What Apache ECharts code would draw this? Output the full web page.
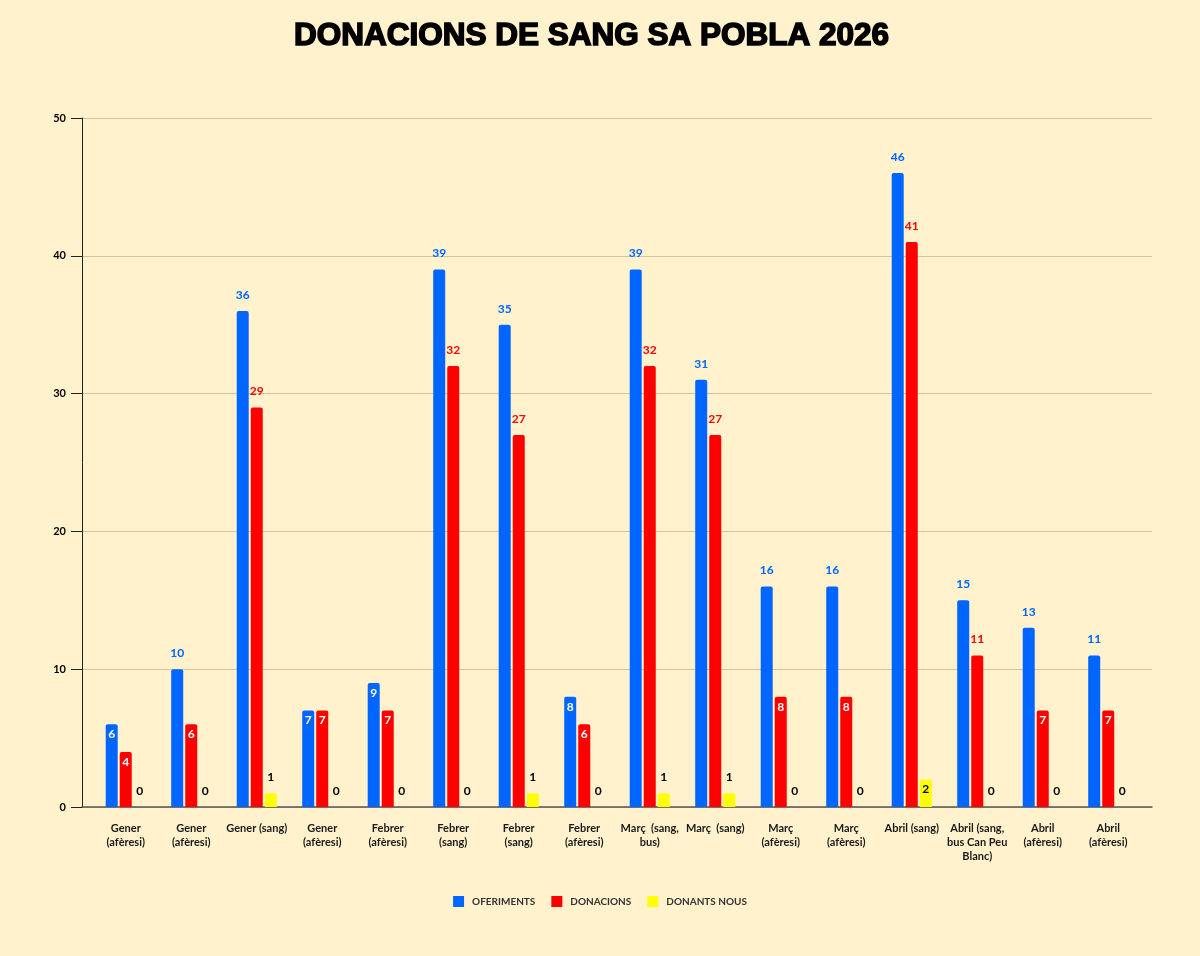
<!DOCTYPE html>
<html>
<head>
<meta charset="utf-8">
<script src="https://cdn.jsdelivr.net/npm/echarts@6/dist/echarts.min.js"></script>
<style>
html, body { margin: 0; padding: 0; background: #FFF2CC; }
#main { width: 1200px; height: 956px; }
</style>
</head>
<body>
<div id="main"></div>
<script>
// dades
var categories = [
    'Gener\n(afèresi)', 'Gener\n(afèresi)', 'Gener (sang)', 'Gener\n(afèresi)',
    'Febrer\n(afèresi)', 'Febrer\n(sang)', 'Febrer\n(sang)', 'Febrer\n(afèresi)',
    'Març  (sang,\nbus)', 'Març  (sang)', 'Març\n(afèresi)', 'Març\n(afèresi)',
    'Abril (sang)', 'Abril (sang,\nbus Can Peu\nBlanc)', 'Abril\n(afèresi)', 'Abril\n(afèresi)'
];
var oferiments = [6, 10, 36, 7, 9, 39, 35, 8, 39, 31, 16, 16, 46, 15, 13, 11];
var donacions = [4, 6, 29, 7, 7, 32, 27, 6, 32, 27, 8, 8, 41, 11, 7, 7];
var donantsNous = [0, 0, 1, 0, 0, 0, 1, 0, 1, 1, 0, 0, 2, 0, 0, 0];
var yTicks = [0, 10, 20, 30, 40, 50];

var BLUE = '#0066FF', RED = '#FF0000', YELLOW = '#FFFF00';
var font = 'Lato, "Open Sans", sans-serif';

// etiqueta a dalt (color de la barra) o dins (blanc) segons l'altura
function withLabels(values, color, limit, insideColor) {
    return values.map(function (v) {
        var inside = v >= limit ? false : true;
        if (color === YELLOW) inside = v >= 2;
        return {
            value: v,
            label: inside
                ? { position: 'insideTop', distance: 4, color: insideColor }
                : { position: 'top', distance: 10, color: color === YELLOW ? '#000' : color }
        };
    });
}

function barSeries(name, values, color) {
    return {
        name: name,
        type: 'bar',
        xAxisIndex: 1,
        yAxisIndex: 1,
        barWidth: 12,
        barGap: '17%',
        itemStyle: { color: color, borderRadius: [2, 2, 0, 0] },
        label: {
            show: true,
            fontFamily: font,
            fontWeight: 'bold',
            fontSize: 12
        },
        data: withLabels(values, color, 10, color === YELLOW ? '#000' : '#fff')
    };
}

var option = {
    backgroundColor: '#FFF2CC',
    animation: false,
    title: {
        text: 'DONACIONS DE SANG SA POBLA 2026',
        left: 289,
        top: 15,
        textStyle: {
            fontFamily: '"Liberation Sans", Arial, sans-serif',
            fontWeight: 900,
            fontSize: 31.5,
            color: '#000',
            textBorderColor: '#000',
            textBorderWidth: 1.6
        }
    },
    legend: {
        bottom: 44,
        left: 'center',
        icon: 'rect',
        itemWidth: 11,
        itemHeight: 11,
        itemGap: 16,
        textStyle: {
            fontFamily: font, fontWeight: 'bold', fontSize: 10, color: '#333',
            padding: [0, 0, 0, 3]
        },
        data: ['OFERIMENTS', 'DONACIONS', 'DONANTS NOUS']
    },
    grid: [
        { left: 82, right: 48, top: 118, bottom: 149 },
        { left: 93, right: 59, top: 118, bottom: 149 }
    ],
    xAxis: [
        {
            type: 'category',
            gridIndex: 0,
            data: categories,
            axisLine: { lineStyle: { color: '#555', width: 1.5 } },
            axisTick: { show: false },
            axisLabel: { show: false }
        },
        {
            type: 'category',
            gridIndex: 1,
            data: categories,
            axisLine: { show: false },
            axisTick: { alignWithLabel: true, length: 10, lineStyle: { color: '#333' } },
            axisLabel: {
                interval: 0,
                margin: 14,
                fontFamily: font,
                fontWeight: 'bold',
                fontSize: 11,
                lineHeight: 14,
                color: '#1a1a1a'
            }
        }
    ],
    yAxis: [
        {
            type: 'value',
            gridIndex: 0,
            min: yTicks[0],
            max: yTicks[yTicks.length - 1],
            interval: 10,
            axisLine: { show: true, lineStyle: { color: '#222' } },
            axisTick: { show: true, length: 11, lineStyle: { color: '#222' } },
            axisLabel: { margin: 16, fontFamily: font, fontWeight: 'bold', fontSize: 11, color: '#000' },
            splitLine: { lineStyle: { color: '#CFC3A0' } }
        },
        {
            type: 'value',
            gridIndex: 1,
            min: yTicks[0],
            max: yTicks[yTicks.length - 1],
            interval: 10,
            show: false
        }
    ],
    series: [
        barSeries('OFERIMENTS', oferiments, BLUE),
        barSeries('DONACIONS', donacions, RED),
        barSeries('DONANTS NOUS', donantsNous, YELLOW)
    ]
};

var myChart = echarts.init(document.getElementById('main'));
myChart.setOption(option);
</script>
</body>
</html>
